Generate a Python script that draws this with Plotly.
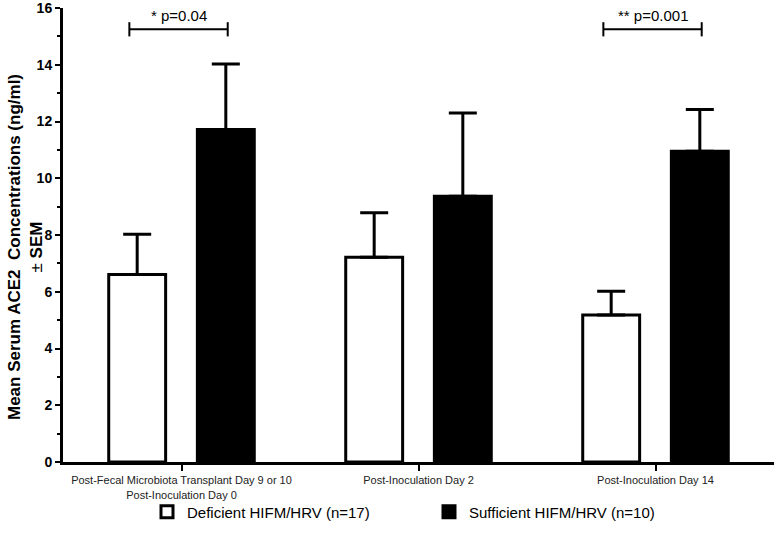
import plotly.graph_objects as go

categories = ["Post-Fecal Microbiota Transplant Day 9 or 10<br>Post-Inoculation Day 0",
              "Post-Inoculation Day 2",
              "Post-Inoculation Day 14"]
deficient_mean = [6.61, 7.22, 5.18]
deficient_sem = [1.42, 1.56, 0.84]
sufficient_mean = [11.72, 9.37, 10.95]
sufficient_sem = [2.31, 2.93, 1.47]
y_ticks = [0, 2, 4, 6, 8, 10, 12, 14, 16]
sig_labels = ["* p=0.04", None, "** p=0.001"]
y_title = "<b>Mean Serum ACE2&nbsp; Concentrations (ng/ml)</b><br>± <b>SEM</b>"

xpos = list(range(len(categories)))
FONT = "Liberation Sans, Arial, sans-serif"
ML, MR, MT, MB = 63, 3, 8, 82

fig = go.Figure()
fig.add_trace(go.Bar(
    x=xpos, y=deficient_mean, name="Deficient HIFM/HRV (n=17)",
    marker=dict(color="white", line=dict(color="black", width=3)),
    error_y=dict(type="data", array=deficient_sem, arrayminus=[0]*3, symmetric=False,
                 color="black", thickness=3, width=14),
))
fig.add_trace(go.Bar(
    x=xpos, y=sufficient_mean, name="Sufficient HIFM/HRV (n=10)",
    marker=dict(color="black", line=dict(color="black", width=3)),
    error_y=dict(type="data", array=sufficient_sem, arrayminus=[0]*3, symmetric=False,
                 color="black", thickness=3, width=14),
))

# significance brackets
for i, lab in enumerate(sig_labels):
    if lab is None:
        continue
    x0, x1, yb = i - 0.22, i + 0.195, 15.25
    fig.add_shape(type="line", x0=x0, x1=x1, y0=yb, y1=yb, line=dict(color="black", width=2))
    for xx in (x0, x1):
        fig.add_shape(type="line", x0=xx, x1=xx, y0=yb - 0.25, y1=yb + 0.25,
                      line=dict(color="black", width=2))
    fig.add_annotation(x=(x0 + x1) / 2, y=yb, text=lab, showarrow=False,
                       yanchor="bottom", yshift=3, font=dict(family=FONT, size=15, color="black"))

# y-axis title as rotated annotation
plot_w = 777 - ML - MR
plot_h = 544 - MT - MB
fig.add_annotation(xref="paper", yref="paper", x=(25 - ML) / plot_w,
                   y=1 - (247 - MT) / plot_h,
                   xanchor="center", yanchor="middle", textangle=-90, showarrow=False,
                   text=y_title, font=dict(family=FONT, size=17, color="black"))

fig.update_layout(
    width=777, height=544,
    margin=dict(l=ML, r=MR, t=MT, b=MB, autoexpand=False),
    paper_bgcolor="white", plot_bgcolor="white",
    barmode="group", bargap=0.252, bargroupgap=0.358,
    font=dict(family=FONT, color="black"),
    showlegend=True,
    legend=dict(orientation="h", xref="container", yref="container",
                x=147 / 777, xanchor="left", y=32 / 544, yanchor="middle",
                bgcolor="rgba(0,0,0,0)",
                font=dict(size=15, family=FONT), entrywidth=237, itemwidth=30),
    xaxis=dict(range=[-0.5, 2.5], tickvals=xpos, ticktext=categories, automargin=False,
               showline=True, linecolor="black", linewidth=3, ticks="outside",
               tickcolor="black", tickwidth=2, ticklen=6, showgrid=False, zeroline=False,
               tickfont=dict(size=11, family=FONT, color="#222")),
    yaxis=dict(range=[0, 16], tickvals=y_ticks, showline=True, linecolor="black", linewidth=3,
               automargin=False, ticklabeloverflow="allow",
               ticks="outside", tickcolor="black", tickwidth=2, ticklen=5, showgrid=False,
               zeroline=False, tickfont=dict(size=14, family=FONT, weight="bold"),
               minor=dict(dtick=1, ticks="outside", ticklen=3, tickwidth=2, tickcolor="black")),
)

fig.write_html("out.html", config={"displayModeBar": False},
               post_script="document.body.style.margin='0';")
